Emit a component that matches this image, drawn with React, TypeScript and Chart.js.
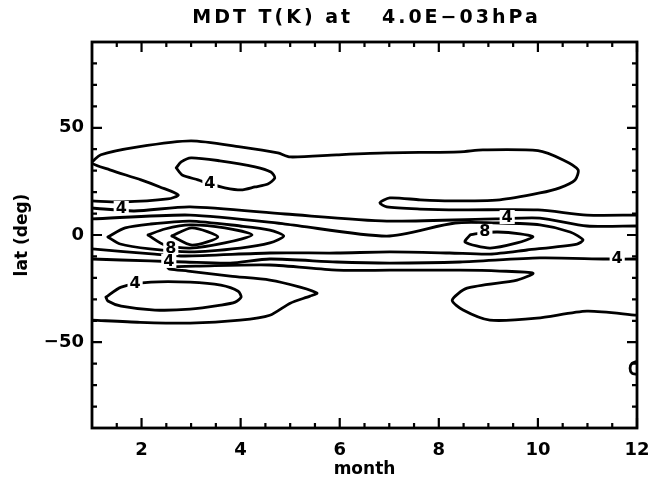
import React, { useEffect, useRef } from 'react';
import { Chart, registerables } from 'chart.js';

Chart.register(...registerables);

// ---------- axes ----------
const monthMin = 1;
const monthMax = 12;
const latMin = -90;
const latMax = 90;
const xTickValues = [2, 4, 6, 8, 10, 12];
const xTickLabels = ['2', '4', '6', '8', '10', '12'];
const yTickValues = [-50, 0, 50];
const yTickLabels = ['\u221250', '0', '50'];
const xMinorTicks = [1.5, 2.5, 3, 3.5, 4.5, 5, 5.5, 6.5, 7, 7.5, 8.5, 9, 9.5, 10.5, 11, 11.5];
const yMinorTicks = [-80, -70, -60, -40, -30, -20, -10, 10, 20, 30, 40, 60, 70, 80];

const titleText = 'MDT T(K) at   4.0E\u221203hPa';
const xTitle = 'month';
const yTitle = 'lat (deg)';

// ---------- contour lines: [month, lat] ----------
type P = [number, number];

const contourNorthOuter: P[] = [
  [1.0, 15.9], [1.59, 15.4], [2.53, 16.8], [2.74, 18.7], [2.37, 22.4], [1.99, 25.7],
  [1.36, 30.4], [1.0, 33.6], [1.18, 37.4], [1.93, 41.1], [3.0, 43.9], [3.99, 41.1],
  [4.75, 38.3], [5.0, 36.4], [5.94, 37.4], [6.95, 38.3], [8.43, 38.8], [8.89, 39.7],
  [10.0, 39.3], [10.51, 35.0], [10.81, 30.4], [10.75, 25.7], [10.44, 22.0], [10.04, 19.6],
  [9.23, 16.4], [8.22, 15.9], [7.62, 16.4], [7.01, 17.3], [6.81, 15.0], [6.95, 13.1],
  [7.62, 12.1], [8.43, 11.7], [10.0, 11.7], [10.99, 9.3], [12.0, 9.3],
];

const contourNorth4: P[] = [
  [2.7, 31.3], [2.8, 34.1], [3.0, 36.0], [3.58, 34.6], [4.29, 31.8], [4.61, 29.4],
  [4.69, 26.6], [4.55, 23.8], [4.29, 22.4], [4.01, 21.0], [3.68, 22.0], [3.38, 23.8],
  [3.14, 25.7], [2.82, 28.0], [2.7, 31.3],
];

const contourBand1: P[] = [
  [1.0, 12.6], [1.85, 11.2], [2.98, 13.1], [4.9, 9.8], [6.95, 6.5], [9.15, 7.5],
  [10.04, 7.9], [10.99, 4.2], [12.0, 4.2],
];

const contourBand2: P[] = [
  [1.0, 7.5], [2.98, 9.3], [4.9, 5.1], [6.95, -0.5], [8.33, 5.6], [9.23, 5.6],
  [10.04, 4.7], [10.65, 1.4], [10.91, -2.3], [10.79, -4.2], [9.78, -7.0], [9.03, -8.9],
  [8.22, -8.4], [7.01, -7.9], [5.94, -8.4], [4.59, -8.4], [2.88, -9.8], [2.27, -8.9],
  [1.0, -6.5],
];

const contourEastCore: P[] = [
  [8.63, 0.0], [8.83, 0.9], [9.19, 1.4], [9.64, 0.5], [9.9, -0.9], [9.58, -3.7],
  [9.03, -6.1], [8.53, -3.3], [8.63, 0.0],
];

const contourWestOuter: P[] = [
  [1.32, -0.9], [1.67, 3.3], [2.17, 5.1], [2.98, 6.5], [3.99, 4.2], [4.59, 2.3],
  [4.87, -0.5], [4.59, -3.7], [3.99, -6.1], [2.98, -7.9], [2.17, -6.5], [1.57, -4.2],
  [1.32, -0.9],
];

const contourWestMiddle: P[] = [
  [2.13, 0.0], [2.47, 2.8], [2.98, 4.7], [3.68, 3.3], [4.23, 0.0], [3.68, -3.7],
  [2.98, -6.1], [2.47, -4.7], [2.13, 0.0],
];

const contourWestCore: P[] = [
  [2.61, -0.5], [3.02, 3.3], [3.54, -0.9], [3.02, -4.7], [2.61, -0.5],
];

const contourBand3: P[] = [
  [1.0, -11.2], [2.17, -12.1], [2.88, -12.6], [3.79, -13.1], [4.59, -11.2], [5.94, -12.6],
  [7.01, -13.1], [8.43, -12.6], [10.04, -10.7], [11.39, -11.2], [12.0, -11.2],
];

const contourSouthOuter: P[] = [
  [12.0, -37.4], [10.99, -35.5], [9.98, -38.8], [9.03, -39.7], [8.49, -35.0], [8.27, -30.4],
  [8.57, -24.8], [9.58, -21.0], [9.9, -17.8], [9.23, -16.8], [8.43, -16.4], [7.01, -16.4],
  [5.94, -16.4], [4.59, -14.0], [3.18, -14.5], [2.53, -15.0], [2.57, -15.9], [2.94, -16.8],
  [3.79, -19.2], [4.59, -21.0], [5.2, -24.3], [5.54, -27.1], [5.4, -28.5], [5.0, -31.8],
  [4.59, -37.4], [3.99, -39.7], [2.98, -41.1], [1.97, -40.7], [1.0, -39.7],
];

const contourSouth4: P[] = [
  [1.28, -29.0], [1.59, -24.3], [2.19, -22.0], [2.98, -22.0], [3.6, -23.4], [3.95, -26.2],
  [4.01, -29.0], [3.89, -31.3], [3.6, -32.7], [2.98, -34.6], [2.27, -35.0], [1.59, -33.2],
  [1.32, -30.8], [1.28, -29.0],
];

const contourEdgeSouth: P[] = [
  [12.0, -58.9], [11.9, -59.8], [11.86, -62.1], [11.9, -64.5], [12.0, -65.0],
];

const contours: P[][] = [
  contourNorthOuter, contourNorth4, contourBand1, contourBand2, contourEastCore,
  contourWestOuter, contourWestMiddle, contourWestCore, contourBand3,
  contourSouthOuter, contourSouth4, contourEdgeSouth,
];

// contour labels
const labelTexts = ['4', '4', '4', '8', '8', '4', '4', '4'];
const labelMonths = [3.38, 1.59, 9.38, 8.93, 2.59, 2.55, 11.6, 1.87];
const labelLats = [24.3, 12.6, 8.4, 1.9, -6.1, -12.1, -10.7, -22.4];

const FONT = '"DejaVu Sans", "Liberation Sans", sans-serif';

const decorPlugin = {
  id: 'decor',
  afterDatasetsDraw(chart: any) {
    const { ctx, scales } = chart;
    const xs = scales.x;
    const ys = scales.y;
    ctx.save();
    ctx.font = `bold 16px ${FONT}`;
    ctx.textAlign = 'center';
    ctx.textBaseline = 'middle';
    labelTexts.forEach((t, i) => {
      const px = xs.getPixelForValue(labelMonths[i]);
      const py = ys.getPixelForValue(labelLats[i]);
      const w = ctx.measureText(t).width;
      ctx.fillStyle = '#fff';
      ctx.fillRect(px - w / 2 - 2, py - 7, w + 4, 14);
      ctx.fillStyle = '#000';
      ctx.fillText(t, px, py + 1);
    });
    ctx.restore();
  },
  afterDraw(chart: any) {
    const { ctx, chartArea: a, scales } = chart;
    const xs = scales.x;
    const ys = scales.y;
    ctx.save();
    ctx.strokeStyle = '#000';
    ctx.lineWidth = 2.2;
    ctx.beginPath();
    const tick = (v: number, len: number, horiz: boolean) => {
      if (horiz) {
        const px = xs.getPixelForValue(v);
        ctx.moveTo(px, a.bottom); ctx.lineTo(px, a.bottom - len);
        ctx.moveTo(px, a.top); ctx.lineTo(px, a.top + len);
      } else {
        const py = ys.getPixelForValue(v);
        ctx.moveTo(a.left, py); ctx.lineTo(a.left + len, py);
        ctx.moveTo(a.right, py); ctx.lineTo(a.right - len, py);
      }
    };
    xTickValues.forEach((v) => tick(v, 10, true));
    xMinorTicks.forEach((v) => tick(v, 5, true));
    yTickValues.forEach((v) => tick(v, 10, false));
    yMinorTicks.forEach((v) => tick(v, 5, false));
    ctx.stroke();
    ctx.lineWidth = 2.8;
    ctx.strokeRect(a.left, a.top, a.right - a.left, a.bottom - a.top);

    // title
    ctx.fillStyle = '#000';
    ctx.font = `bold 19px ${FONT}`;
    (ctx as any).letterSpacing = '3px';
    ctx.textAlign = 'center';
    ctx.textBaseline = 'middle';
    ctx.fillText(titleText, (a.left + a.right) / 2 + 2, 18);
    ctx.restore();
  },
};

export default function App() {
  const ref = useRef<HTMLCanvasElement | null>(null);

  useEffect(() => {
    if (!ref.current) return;
    const chart = new Chart(ref.current, {
      type: 'scatter',
      data: {
        datasets: contours.map((c) => ({
          data: c.map(([x, y]) => ({ x, y })),
          showLine: true,
          borderColor: '#000',
          borderWidth: 2.8,
          pointRadius: 0,
          tension: 0.25,
          fill: false,
          borderJoinStyle: 'round' as const,
          borderCapStyle: 'round' as const,
        })),
      },
      options: {
        animation: false,
        responsive: false,
        devicePixelRatio: 1,
        events: [],
        layout: { padding: { top: 42, right: 12, left: 0, bottom: 0 } },
        plugins: {
          legend: { display: false },
          tooltip: { enabled: false },
          title: { display: false },
        },
        scales: {
          x: {
            type: 'linear',
            position: 'bottom',
            min: monthMin,
            max: monthMax,
            afterBuildTicks: (s: any) => {
              s.ticks = xTickValues.map((v) => ({ value: v }));
            },
            afterFit: (s: any) => {
              s.height = 59;
              s.paddingLeft = 0;
              s.paddingRight = 0;
            },
            grid: { display: false, drawTicks: false },
            border: { display: false },
            ticks: {
              color: '#000',
              font: { family: FONT, weight: 'bold', size: 18 },
              padding: 12,
              maxRotation: 0,
              autoSkip: false,
              callback: (_v: any, i: number) => xTickLabels[i],
            },
            title: {
              display: true,
              text: xTitle,
              color: '#000',
              font: { family: FONT, weight: 'bold', size: 17 },
              padding: { top: 0, bottom: 7 },
            },
          },
          y: {
            type: 'linear',
            position: 'left',
            min: latMin,
            max: latMax,
            afterBuildTicks: (s: any) => {
              s.ticks = yTickValues.map((v) => ({ value: v }));
            },
            afterFit: (s: any) => {
              s.width = 92;
              s.paddingTop = 0;
              s.paddingBottom = 0;
            },
            grid: { display: false, drawTicks: false },
            border: { display: false },
            ticks: {
              color: '#000',
              font: { family: FONT, weight: 'bold', size: 18 },
              padding: 8,
              autoSkip: false,
              callback: (_v: any, i: number) => yTickLabels[i],
            },
            title: {
              display: true,
              text: yTitle,
              color: '#000',
              font: { family: FONT, weight: 'bold', size: 17 },
              padding: { top: 12, bottom: 0 },
            },
          },
        },
      },
      plugins: [decorPlugin],
    } as any);
    return () => chart.destroy();
  }, []);

  return (
    <div style={{ position: 'absolute', left: 0, top: 0, width: 649, height: 487, background: '#fff' }}>
      <canvas ref={ref} width={649} height={487} style={{ display: 'block' }} />
    </div>
  );
}
